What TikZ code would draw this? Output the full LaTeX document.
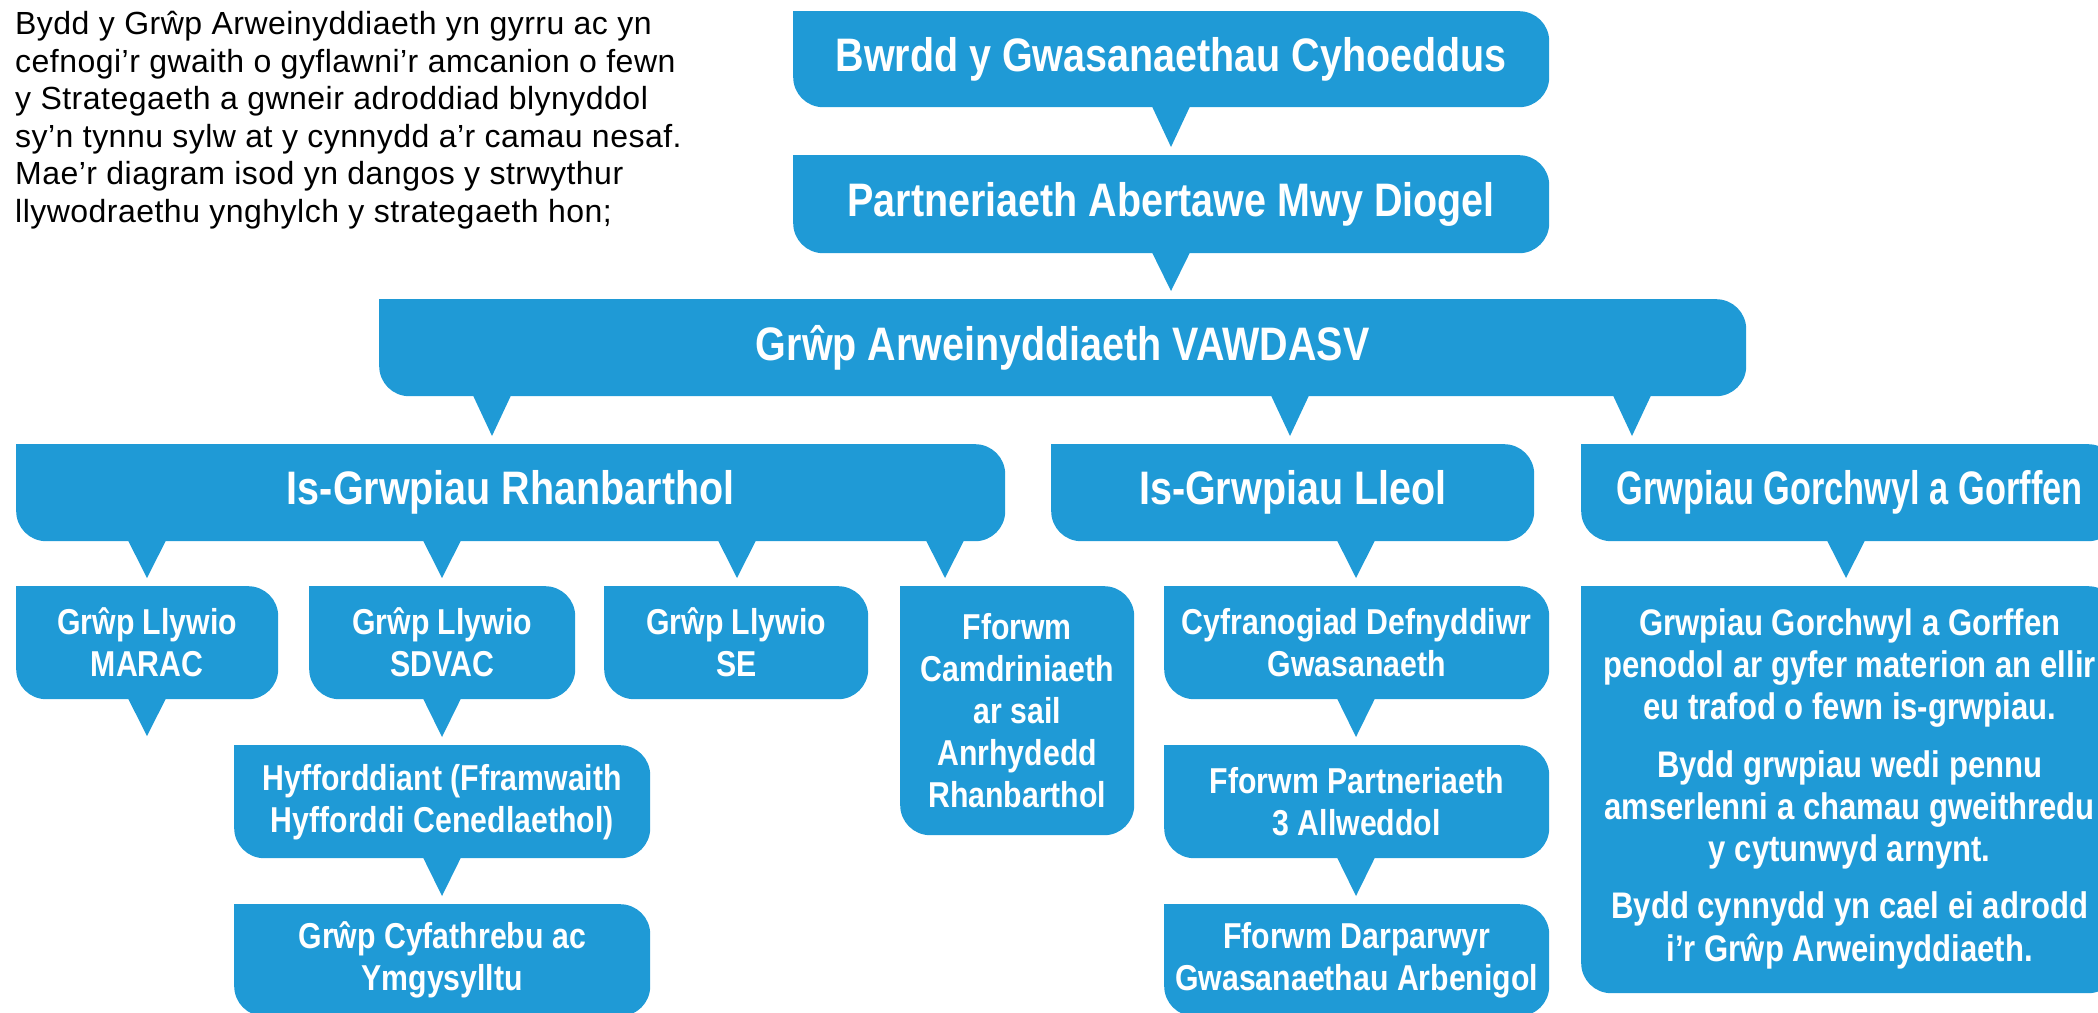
\documentclass[tikz,border=0pt]{standalone}
\usepackage{fontspec}
\usepackage{graphicx}
\usetikzlibrary{calc}
\newfontfamily\cbfont{Liberation Sans}[FakeStretch=0.84]
\newfontfamily\parafont{Liberation Sans}[LetterSpace=1.5]
\definecolor{bubblue}{RGB}{31,154,214}
\pgfdeclarelayer{bg}
\pgfsetlayers{bg,main}
\tikzset{
  bub/.style={fill=bubblue, rounded corners=30pt, inner sep=0pt, text=white, align=center, anchor=north west},
  bigtxt/.style={font=\cbfont\bfseries\fontsize{47}{54}\selectfont},
  smalltxt/.style={font=\cbfont\bfseries\fontsize{36}{42}\selectfont},
  bodytxt/.style={font=\cbfont\bfseries\fontsize{37}{42.3}\selectfont},
}
\newcommand\ptr[3]{%
  \fill[bubblue] ($(#1.south -| #2)+(-19,-1)$) -- ($(#1.south -| #2)+(19,-1)$) -- ($(#3 -| #2)+(0,-8)$) -- cycle;}
\newcommand\sqcorner[1]{\fill[bubblue] (#1.north west) rectangle ++(32,32);}
\begin{document}
\begin{tikzpicture}[x=1pt,y=-1pt]
\useasboundingbox (0,0) rectangle (2098,1012);
\clip (0,0) rectangle (2098,1012);

\node[anchor=north west, inner sep=0pt, align=left, font=\parafont\fontsize{32}{37.5}\selectfont] (intro) at (15,11)
 {Bydd y Grŵp Arweinyddiaeth yn gyrru ac yn\\
  cefnogi’r gwaith o gyflawni’r amcanion o fewn\\
  y Strategaeth a gwneir adroddiad blynyddol\\
  sy’n tynnu sylw at y cynnydd a’r camau nesaf.\\
  Mae’r diagram isod yn dangos y strwythur\\
  llywodraethu ynghylch y strategaeth hon;};

\node[bub, bigtxt, minimum width=756pt, minimum height=96pt] (bwrdd) at (793,11) {Bwrdd y Gwasanaethau Cyhoeddus};
\node[bub, bigtxt, minimum width=756pt, minimum height=98pt] (partner) at (793,155) {Partneriaeth Abertawe Mwy Diogel};
\node[bub, bigtxt, minimum width=1367pt, minimum height=97pt] (vawdasv) at (379,299) {Grŵp Arweinyddiaeth VAWDASV};
\node[bub, bigtxt, minimum width=989pt, minimum height=97pt] (rhan) at (16,444) {Is-Grwpiau Rhanbarthol};
\node[bub, bigtxt, minimum width=483pt, minimum height=97pt] (lleol) at (1051,444) {Is-Grwpiau Lleol};
\node[bub, bigtxt, minimum width=537pt, minimum height=97pt] (gorch) at (1581,444) {\scalebox{0.87}[1]{Grwpiau Gorchwyl a Gorffen}};

\node[bub, smalltxt, minimum width=262pt, minimum height=113pt] (marac) at (16,586) {Grŵp Llywio\\MARAC};
\node[bub, smalltxt, minimum width=266pt, minimum height=113pt] (sdvac) at (309,586) {Grŵp Llywio\\SDVAC};
\node[bub, smalltxt, minimum width=264pt, minimum height=113pt] (se) at (604,586) {Grŵp Llywio\\SE};
\node[bub, smalltxt, minimum width=234pt, minimum height=249pt] (forum) at (900,586) {Fforwm\\Camdriniaeth\\ar sail\\Anrhydedd\\Rhanbarthol};
\node[bub, smalltxt, minimum width=385pt, minimum height=113pt] (cyfran) at (1164,586) {Cyfranogiad Defnyddiwr\\Gwasanaeth};
\node[bub, bodytxt, minimum width=537pt, minimum height=407pt] (gorbody) at (1581,586)
 {\raisebox{4pt}{\begin{tabular}{@{}c@{}}Grwpiau Gorchwyl a Gorffen\\penodol ar gyfer materion an ellir\\eu trafod o fewn is-grwpiau.\\[15pt]
  Bydd grwpiau wedi pennu\\amserlenni a chamau gweithredu\\y cytunwyd arnynt.\\[15pt]
  Bydd cynnydd yn cael ei adrodd\\i’r Grŵp Arweinyddiaeth.\end{tabular}}};

\node[bub, smalltxt, minimum width=416pt, minimum height=113pt] (hyff) at (234,745) {Hyfforddiant (Fframwaith\\Hyfforddi Cenedlaethol)};
\node[bub, smalltxt, minimum width=385pt, minimum height=113pt] (fpart) at (1164,745) {Fforwm Partneriaeth\\3 Allweddol};
\node[bub, smalltxt, minimum width=416pt, minimum height=112pt] (cyfa) at (234,904) {Grŵp Cyfathrebu ac\\Ymgysylltu};
\node[bub, smalltxt, minimum width=385pt, minimum height=112pt] (fdarp) at (1164,904) {Fforwm Darparwyr\\Gwasanaethau Arbenigol};

\coordinate (xa) at (1171,0);
\coordinate (xb) at (492,0);
\coordinate (xc) at (1290,0);
\coordinate (xd) at (1632,0);
\coordinate (xe) at (147,0);
\coordinate (xf) at (442,0);
\coordinate (xg) at (737,0);
\coordinate (xh) at (945,0);
\coordinate (xi) at (1356,0);
\coordinate (xj) at (1846,0);
\coordinate (maracend) at (147,744);

\begin{pgfonlayer}{bg}
\foreach \n in {bwrdd,partner,vawdasv,rhan,lleol,gorch,marac,sdvac,se,forum,cyfran,gorbody,hyff,fpart,cyfa,fdarp} {\sqcorner{\n}}
\ptr{bwrdd}{xa}{partner.north}
\ptr{partner}{xa}{vawdasv.north}
\ptr{vawdasv}{xb}{rhan.north}
\ptr{vawdasv}{xc}{lleol.north}
\ptr{vawdasv}{xd}{gorch.north}
\ptr{rhan}{xe}{marac.north}
\ptr{rhan}{xf}{sdvac.north}
\ptr{rhan}{xg}{se.north}
\ptr{rhan}{xh}{forum.north}
\ptr{lleol}{xi}{cyfran.north}
\ptr{gorch}{xj}{gorbody.north}
\ptr{marac}{xe}{maracend}
\ptr{sdvac}{xf}{hyff.north}
\ptr{hyff}{xf}{cyfa.north}
\ptr{cyfran}{xi}{fpart.north}
\ptr{fpart}{xi}{fdarp.north}
\end{pgfonlayer}
\end{tikzpicture}
\end{document}
